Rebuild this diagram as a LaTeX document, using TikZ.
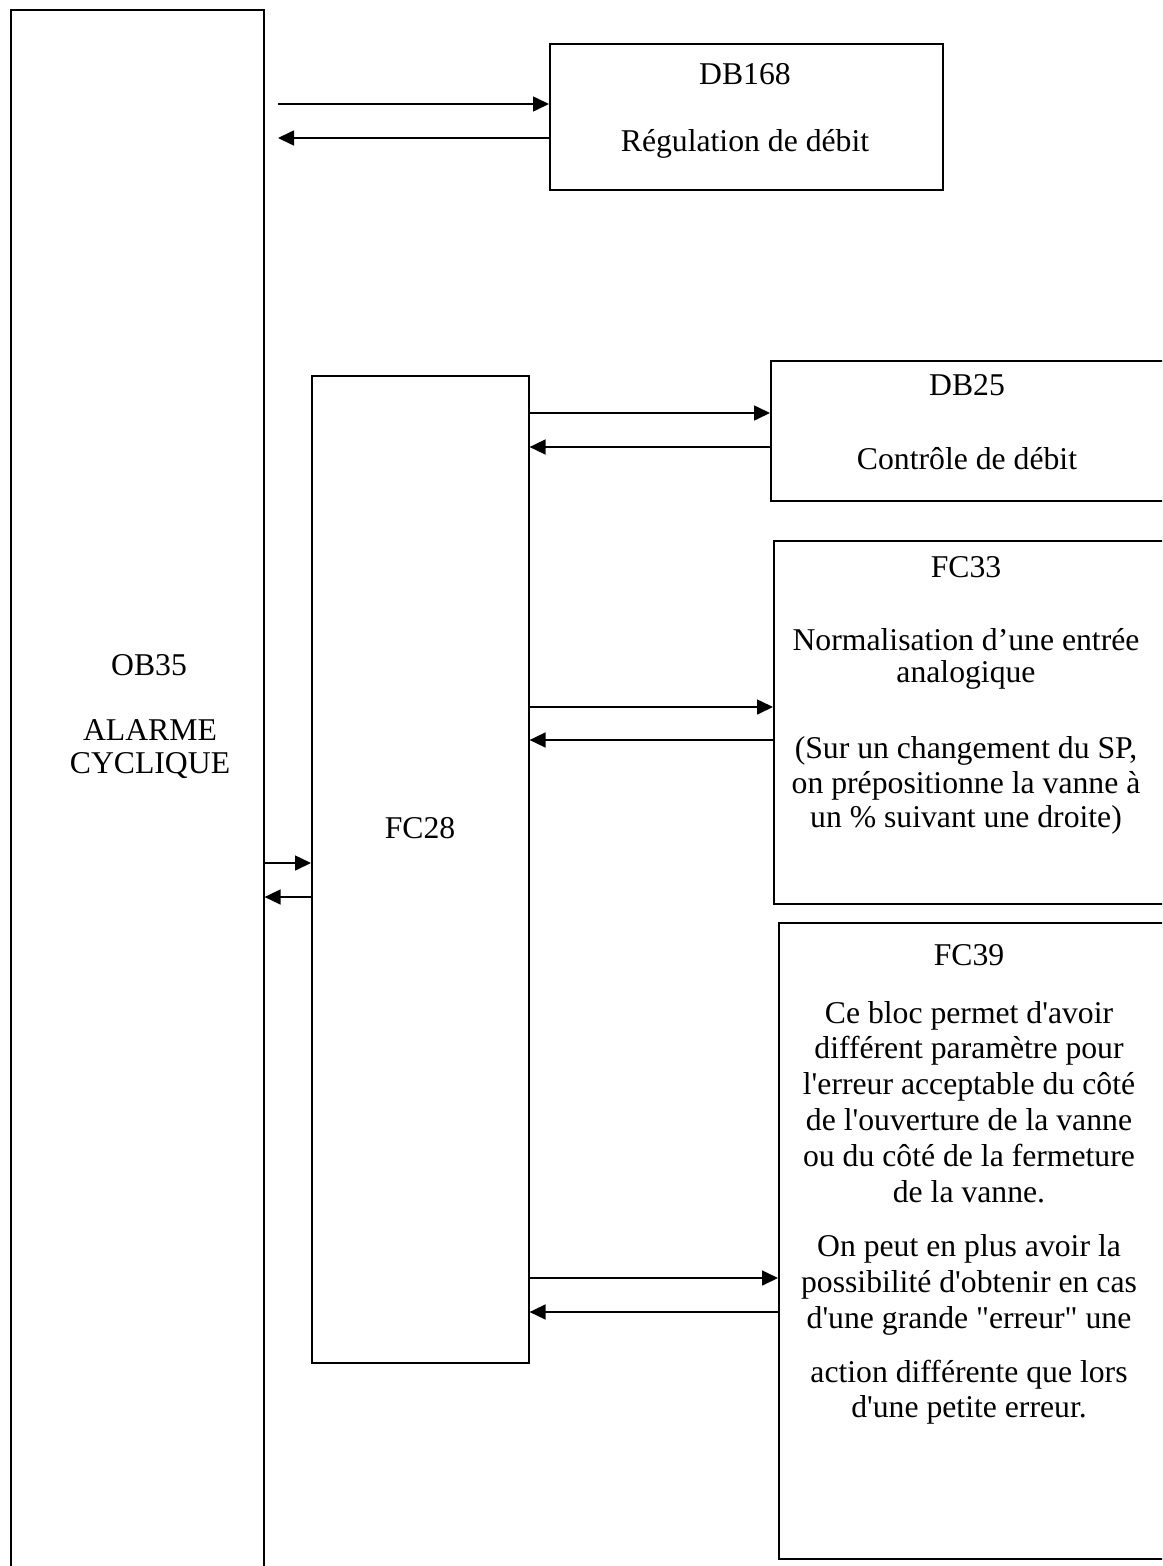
\documentclass[tikz,border=0pt]{standalone}
\usepackage{fontspec}
\newfontfamily\boxfont{Liberation Serif}
\usetikzlibrary{arrows.meta}

\begin{document}
\begin{tikzpicture}[x=1pt, y=-1pt,
    every node/.style={font=\boxfont\fontsize{31.7}{35.5}\selectfont},
    blk/.style={draw, line width=1.6pt, inner sep=0pt, anchor=north west},
    lbl/.style={inner sep=0pt, text height=0.7em, text depth=0.25em, yshift=-8pt},
    flow/.style={line width=1.6pt, -{Triangle[length=16pt, width=15pt]}}]
    \useasboundingbox (0,0) rectangle (1162,1566);
    \clip (0,0) rectangle (1162,1566);
    % blocks
    \node[blk, minimum width=253, minimum height=1600] (ob35) at (10,9) {};
    \node[blk, minimum width=393, minimum height=146] (db168) at (549,43) {};
    \node[blk, minimum width=217, minimum height=987] (fc28) at (311,375) {};
    \node[blk, minimum width=420, minimum height=140] (db25) at (770,360) {};
    \node[blk, minimum width=420, minimum height=363] (fc33) at (773,540) {};
    \node[blk, minimum width=420, minimum height=636] (fc39) at (778,922) {};
    % texts
    \node[lbl] (obA) at (149,665) {OB35};
    \node[lbl] (obB) at (150,730) {ALARME};
    \node[lbl] (obC) at (150,763) {CYCLIQUE};
    \node[lbl] (fcA) at (420,828) {FC28};
    \node[lbl] (dbA) at (745,74) {DB168};
    \node[lbl] (dbB) at (745,141) {Régulation de débit};
    \node[lbl] (dbC) at (967,385) {DB25};
    \node[lbl] (dbD) at (967,459) {Contrôle de débit};
    \foreach \y/\t [count=\k] in {567/FC33, 640/{Normalisation d’une entrée},
        672/analogique, 748/{(Sur un changement du SP,},
        783/on prépositionne la vanne à, 817/un \% suivant une droite)}
        \node[lbl] (fcb\k) at (966,\y) {\t};
    \foreach \y/\t [count=\k] in {955/FC39, 1013/Ce bloc permet d'avoir,
        1048/différent paramètre pour, 1084/l'erreur acceptable du côté,
        1120/de l'ouverture de la vanne, 1156/ou du côté de la fermeture,
        1192/de la vanne., 1246/On peut en plus avoir la,
        1282/possibilité d'obtenir en cas, 1318/d'une grande "erreur" une,
        1372/action différente que lors, 1407/d'une petite erreur.}
        \node[lbl] (fcc\k) at (969,\y) {\t};
    % links
    \coordinate (gap) at (278,0);
    \draw[flow] (gap |- 0,104) -- (db168.west |- 0,104);
    \draw[flow] (db168.west |- 0,138) -- (gap |- 0,138);
    \draw[flow] (ob35.east |- 0,863) -- (fc28.west |- 0,863);
    \draw[flow] (fc28.west |- 0,897) -- (ob35.east |- 0,897);
    \foreach \dst/\ya/\yb in {db25/413/447, fc33/707/740, fc39/1278/1312}{
        \draw[flow] (fc28.east |- 0,\ya) -- (\dst.west |- 0,\ya);
        \draw[flow] (\dst.west |- 0,\yb) -- (fc28.east |- 0,\yb);
    }
\end{tikzpicture}
\end{document}
